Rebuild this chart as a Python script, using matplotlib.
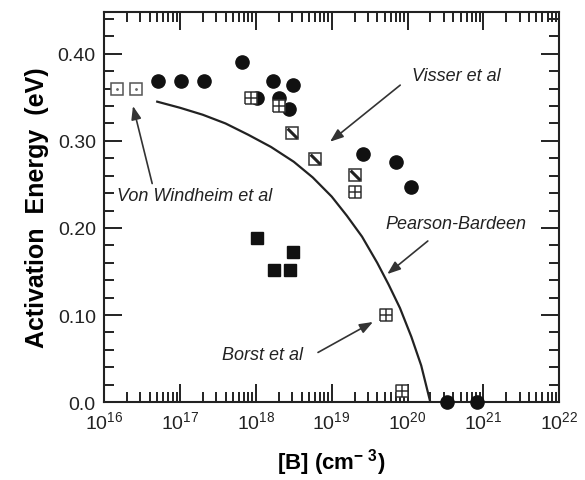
import matplotlib
matplotlib.use("Agg")
import matplotlib.pyplot as plt
import numpy as np
from matplotlib.path import Path
from matplotlib.ticker import LogLocator, MultipleLocator, NullFormatter

plt.rcParams['font.family'] = ['Liberation Sans', 'DejaVu Sans']
plt.rcParams['mathtext.fontset'] = 'custom'
plt.rcParams['mathtext.rm'] = 'Liberation Sans'
plt.rcParams['mathtext.bf'] = 'Liberation Sans:bold'
plt.rcParams['mathtext.default'] = 'regular'

# data: [B] (cm^-3) and activation energy (eV)
circle_B = [5.2e16, 1.04e17, 2.1e17, 6.6e17, 1.7e18, 3.1e18, 2.04e18, 1.05e18, 2.75e18,
            2.6e19, 7.1e19, 1.12e20, 3.3e20, 8.3e20]
circle_E = [0.369, 0.369, 0.369, 0.390, 0.369, 0.364, 0.349, 0.349, 0.337,
            0.285, 0.276, 0.247, 0.0, 0.0]

fsq_B = [1.05e18, 3.1e18, 1.74e18, 2.8e18]
fsq_E = [0.189, 0.172, 0.152, 0.152]

grid_B = [8.7e17, 2.04e18, 2.04e19, 5.2e19, 8.5e19]
grid_E = [0.349, 0.340, 0.241, 0.100, 0.013]

hatch_B = [3.0e18, 6.0e18, 2.04e19]
hatch_E = [0.309, 0.279, 0.261]

vw_B = [1.5e16, 2.65e16]
vw_E = [0.359, 0.359]

# Pearson-Bardeen curve, points (log10 of [B])
pb_logB = [16.70, 17.00, 17.30, 17.60, 17.90, 18.20, 18.50, 18.75, 19.00,
           19.20, 19.40, 19.60, 19.75, 19.90, 20.05, 20.18, 20.30]
pb_E = [0.345, 0.338, 0.330, 0.320, 0.307, 0.293, 0.276, 0.258, 0.236,
        0.214, 0.190, 0.160, 0.135, 0.108, 0.075, 0.042, 0.0]

ytick_vals = [0.0, 0.1, 0.2, 0.3, 0.4]
ytick_labels = ["0.0", "0.10", "0.20", "0.30", "0.40"]

ink = "#111111"

# custom square markers
sq = [(-1, -1), (1, -1), (1, 1), (-1, 1), (-1, -1)]
grid_path = Path(sq + [(0, -1), (0, 1), (-1, 0), (1, 0)],
                 [Path.MOVETO] + [Path.LINETO] * 4 + [Path.MOVETO, Path.LINETO, Path.MOVETO, Path.LINETO])
diag_path = Path([(-0.55, 0.55), (0.55, -0.55)], [Path.MOVETO, Path.LINETO])

fig = plt.figure(figsize=(5.85, 4.81), dpi=100)
ax = fig.add_axes([0.178, 0.162, 0.778, 0.811])

ax.plot(10 ** np.array(pb_logB), pb_E, color="#222222", lw=1.6, zorder=2)

ax.plot(circle_B, circle_E, "o", ms=9.5, color=ink, ls="none", clip_on=False, zorder=3)
ax.plot(fsq_B, fsq_E, "s", ms=8.5, color=ink, ls="none", zorder=3)
ax.plot(grid_B, grid_E, marker=grid_path, ms=8, mfc="white", mec="#333333", mew=1.1,
        ls="none", zorder=4)
ax.plot(hatch_B, hatch_E, "s", ms=8, mfc="white", mec="#333333", mew=1.1, ls="none", zorder=4)
ax.plot(hatch_B, hatch_E, marker=diag_path, ms=7, mec="#222222", mew=2.2, ls="none", zorder=5)
ax.plot(vw_B, vw_E, "s", ms=8, mfc="white", mec="#555555", mew=1.1, ls="none", zorder=4)
ax.plot(vw_B, vw_E, ".", ms=2, color="#666666", ls="none", zorder=5)

ax.set_xscale("log")
ax.set_xlim(1e16, 1e22)
ax.set_ylim(0, 0.448)

ax.xaxis.set_major_locator(LogLocator(base=10, numticks=10))
ax.xaxis.set_minor_locator(LogLocator(base=10, subs=np.arange(2, 10), numticks=20))
ax.xaxis.set_minor_formatter(NullFormatter())
ax.set_yticks(ytick_vals)
ax.set_yticklabels(ytick_labels)
ax.yaxis.set_minor_locator(MultipleLocator(0.02))

ax.tick_params(which="both", direction="in", top=True, right=True, width=1.4, colors="#222222")
ax.tick_params(which="major", length=13, labelsize=14, pad=6)
ax.tick_params(which="minor", length=7)
for s in ax.spines.values():
    s.set_linewidth(1.5)
    s.set_color("#222222")

ax.set_ylabel("Activation  Energy  (eV)", fontsize=18, fontweight="bold", labelpad=6)
ax.set_xlabel(r"[B] (cm$^{\mathbf{-\ 3}}$)", fontsize=16, fontweight="bold", labelpad=10)

arrow = dict(arrowstyle="-|>,head_length=0.8,head_width=0.3", color="#333333", lw=1.2,
             shrinkA=0, shrinkB=0)
tkw = dict(fontsize=13, style="italic", color="#222222", va="center", ha="left")

ax.annotate("", xy=(2.4e16, 0.340), xytext=(4.3e16, 0.251), arrowprops=arrow)
ax.text(1.5e16, 0.237, "Von Windheim et al", **tkw)

ax.annotate("", xy=(9.5e18, 0.299), xytext=(8.0e19, 0.364), arrowprops=arrow)
ax.text(1.15e20, 0.375, "Visser et al", **tkw)

ax.annotate("", xy=(5.4e19, 0.147), xytext=(1.85e20, 0.185), arrowprops=arrow)
ax.text(5.1e19, 0.205, "Pearson-Bardeen", **tkw)

ax.annotate("", xy=(3.5e19, 0.092), xytext=(6.6e18, 0.057), arrowprops=arrow)
ax.text(3.6e17, 0.055, "Borst et al", **tkw)

fig.savefig("out.png", dpi=100)
